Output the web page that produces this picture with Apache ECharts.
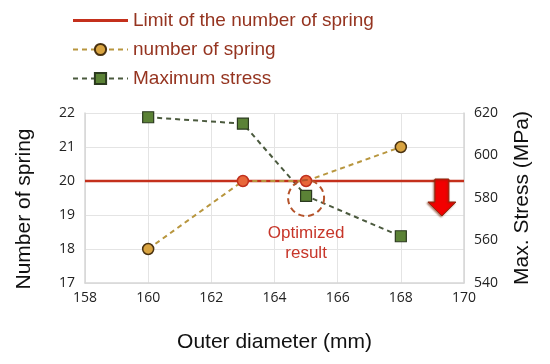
<!DOCTYPE html>
<html><head><meta charset="utf-8">
<script src="https://cdn.jsdelivr.net/npm/echarts@6/dist/echarts.min.js"></script>
<style>html,body{margin:0;padding:0;background:#fff}#c{width:550px;height:364px}</style>
</head><body><div id="c"></div>
<script>
const diameters = [160, 163, 165, 168];
const springCounts = [18, 20, 20, 21];
const maxStress = [618, 615, 581, 562];
const springLimit = 20;
const limitSpan = [158, 170];
const seriesNames = ['Limit of the number of spring', 'number of spring', 'Maximum stress'];
const axisNames = ['Outer diameter (mm)', 'Number of spring', 'Max. Stress (MPa)'];
const noteText = 'Optimized\nresult';
const optimumPoint = [165, 580];
const arrowAt = [169.3, 20];

const chart = echarts.init(document.getElementById('c'));
const tickFont = 'Open Sans';
const nameFont = 'Liberation Sans';
const gridColor = '#e4e4e4';

const springData = diameters.map((d, i) => {
  const onLimit = springCounts[i] === springLimit;
  return {
    value: [d, springCounts[i]],
    itemStyle: onLimit ? { color: '#E8673A', borderColor: '#C0301E', borderWidth: 1.5 } : undefined
  };
});

chart.setOption({
  animation: false,
  backgroundColor: '#fff',
  grid: { left: 85, right: 86, top: 113, bottom: 81, containLabel: false },
  legend: {
    orient: 'vertical', left: 67, top: 6, itemGap: 10, itemWidth: 55, itemHeight: 14,
    textStyle: { fontFamily: nameFont, fontSize: 19, color: '#953420' },
    data: [
      { name: seriesNames[0], icon: 'path://M0,0 L55,0 L55,3 L0,3 Z' },
      { name: seriesNames[1] },
      { name: seriesNames[2] }
    ]
  },
  xAxis: {
    type: 'value', min: 158, max: 170, interval: 2,
    name: axisNames[0], nameLocation: 'middle', nameGap: 49,
    nameTextStyle: { fontFamily: nameFont, fontSize: 21, color: '#111' },
    axisLine: { show: true, lineStyle: { color: '#d6d6d6', width: 1.5 } },
    axisTick: { show: false },
    axisLabel: { fontFamily: tickFont, fontSize: 14, color: '#222', margin: 8 },
    splitLine: { show: true, lineStyle: { color: gridColor, width: 1 } }
  },
  yAxis: [{
    type: 'value', min: 17, max: 22, interval: 1, position: 'left',
    name: axisNames[1], nameLocation: 'middle', nameGap: 50, nameRotate: 90,
    nameTextStyle: { fontFamily: nameFont, fontSize: 21, color: '#111', padding: [0, 22, 0, 0] },
    axisLine: { show: true, lineStyle: { color: '#d6d6d6', width: 1.5 } },
    axisTick: { show: false },
    axisLabel: { fontFamily: tickFont, fontSize: 14, color: '#222', margin: 10 },
    splitLine: { show: true, lineStyle: { color: gridColor, width: 1 } }
  }, {
    type: 'value', min: 540, max: 620, interval: 20, position: 'right',
    name: axisNames[2], nameLocation: 'middle', nameGap: 48, nameRotate: 90,
    nameTextStyle: { fontFamily: nameFont, fontSize: 21, color: '#111' },
    axisLine: { show: true, lineStyle: { color: '#d6d6d6', width: 1.5 } },
    axisTick: { show: false },
    axisLabel: { fontFamily: tickFont, fontSize: 14, color: '#222', margin: 10 },
    splitLine: { show: false }
  }],
  series: [{
    name: seriesNames[0], type: 'line', yAxisIndex: 0, z: 3,
    data: limitSpan.map(x => [x, springLimit]),
    showSymbol: false, symbol: 'none',
    lineStyle: { color: '#C4301C', width: 2.5 },
    itemStyle: { color: '#C4301C' }
  }, {
    name: seriesNames[1], type: 'line', yAxisIndex: 0, z: 4,
    data: springData,
    symbol: 'circle', symbolSize: 11,
    lineStyle: { color: '#B8963E', width: 2, type: [5, 4] },
    itemStyle: { color: '#D9A441', borderColor: '#4a3210', borderWidth: 1.5 }
  }, {
    name: seriesNames[2], type: 'line', yAxisIndex: 1, z: 2,
    data: diameters.map((d, i) => [d, maxStress[i]]),
    symbol: 'rect', symbolSize: 11,
    lineStyle: { color: '#4B5A3E', width: 2, type: [5, 4] },
    itemStyle: { color: '#5B8236', borderColor: '#2B3A1F', borderWidth: 1.2 }
  }]
});

function addAnnotations() {
  const c = chart.convertToPixel({ xAxisIndex: 0, yAxisIndex: 1 }, optimumPoint);
  const a = chart.convertToPixel({ xAxisIndex: 0, yAxisIndex: 0 }, arrowAt);
  const ax = a[0], ay = a[1];
  chart.setOption({
    graphic: [{
      type: 'circle', shape: { cx: c[0], cy: c[1], r: 18 }, z: 10,
      style: { fill: null, stroke: '#B5532A', lineWidth: 2, lineDash: [6, 4] }
    }, {
      type: 'text', x: c[0], y: c[1] + 45, z: 10,
      style: { text: noteText, fontFamily: nameFont, fontSize: 17, lineHeight: 20, fill: '#C7362A', align: 'center', verticalAlign: 'middle' }
    }, {
      type: 'polygon', z: 10,
      shape: { points: [[ax - 7, ay - 2], [ax + 7, ay - 2], [ax + 7, ay + 21], [ax + 14, ay + 21], [ax, ay + 35], [ax - 14, ay + 21], [ax - 7, ay + 21]] },
      style: { fill: '#F20000', stroke: '#8B2A10', lineWidth: 1, shadowColor: 'rgba(120,40,10,0.6)', shadowBlur: 2, shadowOffsetX: -1, shadowOffsetY: 1 }
    }]
  });
}
addAnnotations();
</script>
</body></html>
